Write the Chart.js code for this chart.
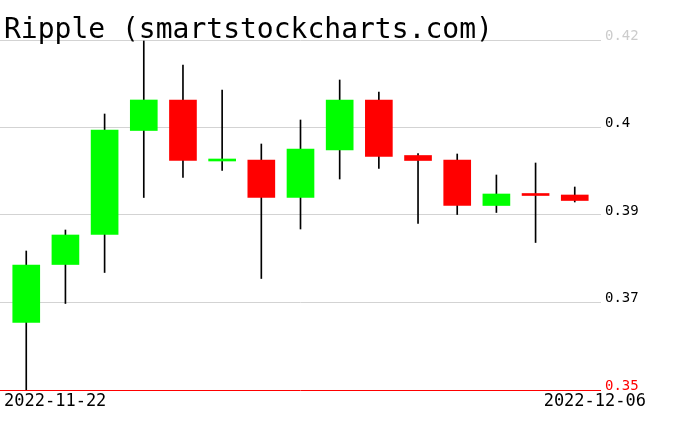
<!DOCTYPE html>
<html>
<head>
<meta charset="utf-8">
<script src="https://cdn.jsdelivr.net/npm/chart.js@4.4.0/dist/chart.umd.min.js"></script>
<style>
  html, body { margin: 0; padding: 0; background: #fff; }
  #wrap { width: 676px; height: 431px; }
</style>
</head>
<body>
<div id="wrap"><canvas id="grafico"></canvas></div>
<script>
// Dados do gráfico
var dates = ['2022-11-22','2022-11-23','2022-11-24','2022-11-25','2022-11-26','2022-11-27','2022-11-28',
             '2022-11-29','2022-11-30','2022-12-01','2022-12-02','2022-12-03','2022-12-04','2022-12-05','2022-12-06'];
var openVals  = [0.3635, 0.3751, 0.3811, 0.4019, 0.4080, 0.3958, 0.3960, 0.3885, 0.3980, 0.4080, 0.3969, 0.3960, 0.3869, 0.3892, 0.3890];
var closeVals = [0.3750, 0.3810, 0.4020, 0.4080, 0.3959, 0.3962, 0.3885, 0.3982, 0.4080, 0.3967, 0.3959, 0.3869, 0.3892, 0.3889, 0.3879];
var highVals  = [0.3778, 0.3820, 0.4052, 0.4198, 0.4150, 0.4100, 0.3992, 0.4040, 0.4120, 0.4096, 0.3973, 0.3972, 0.3930, 0.3954, 0.3906];
var lowVals   = [0.3500, 0.3673, 0.3735, 0.3885, 0.3925, 0.3939, 0.3723, 0.3822, 0.3922, 0.3943, 0.3833, 0.3851, 0.3855, 0.3795, 0.3876];
var tickValues = [0.35, 0.3675, 0.385, 0.4025, 0.42];
var tickLabels = ['0.35', '0.37', '0.39', '0.4', '0.42'];
var titulo = 'Ripple (smartstockcharts.com)';

var verde = '#00ff00';
var vermelho = '#ff0000';

var corpos = [], pavios = [], cores = [];
for (var i = 0; i < dates.length; i++) {
    corpos.push({x: i, y: [openVals[i], closeVals[i]]});
    pavios.push({x: i, y: [lowVals[i], highVals[i]]});
    cores.push(closeVals[i] >= openVals[i] ? verde : vermelho);
}

// Título e datas desenhados direto no canvas
var textos = {
    id: 'textos',
    afterDraw: function(chart){
        var ctx = chart.ctx;
        ctx.save();
        ctx.fillStyle = '#000';
        ctx.textBaseline = 'alphabetic';
        ctx.font = '28px "DejaVu Sans Mono"';
        ctx.textAlign = 'left';
        ctx.fillText(titulo, 4, 38);
        ctx.font = '17px "DejaVu Sans Mono"';
        ctx.fillText(dates[0], 4, 406);
        ctx.textAlign = 'right';
        ctx.fillText(dates[dates.length - 1], 646, 406);
        ctx.restore();
    }
};

var config = {
    type: 'bar',
    data: {
        datasets: [{
            label: 'corpo',
            data: corpos,
            backgroundColor: cores,
            borderWidth: 0,
            barThickness: 27,
            minBarLength: 2,
            grouped: false
        }, {
            label: 'pavio',
            data: pavios,
            backgroundColor: '#000',
            borderWidth: 0,
            barThickness: 1,
            grouped: false
        }]
    },
    options: {
        responsive: true,
        maintainAspectRatio: false,
        animation: false,
        layout: { padding: { top: 40, bottom: 41, left: 0, right: 0 } },
        plugins: {
            legend: { display: false },
            tooltip: { enabled: false }
        },
        scales: {
            x: {
                type: 'linear',
                min: -0.67,
                max: 14.67,
                offset: false,
                display: false
            },
            y: {
                position: 'right',
                min: 0.35,
                max: 0.42,
                afterBuildTicks: function(scale){
                    scale.ticks = tickValues.map(function(v){ return {value: v}; });
                },
                afterFit: function(scale){ scale.width = 75; },
                border: { display: false },
                grid: {
                    drawTicks: false,
                    color: function(c){ return c.index === 0 ? vermelho : '#d3d3d3'; }
                },
                ticks: {
                    padding: 4,
                    labelOffset: -4,
                    font: { family: 'DejaVu Sans Mono', size: 14 },
                    color: function(c){
                        if (c.index === 0) return vermelho;
                        if (c.index === tickValues.length - 1) return '#cccccc';
                        return '#000';
                    },
                    callback: function(value, index){ return tickLabels[index]; }
                }
            }
        }
    },
    plugins: [textos]
};

new Chart(document.getElementById('grafico'), config);
</script>
</body>
</html>
